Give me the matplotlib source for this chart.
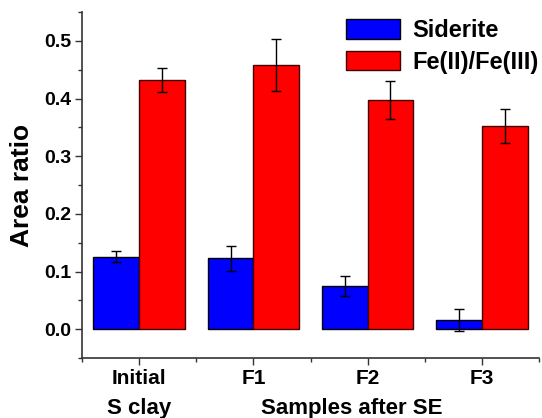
import numpy as np
import matplotlib.pyplot as plt
from matplotlib.ticker import MultipleLocator

plt.rcParams['font.family'] = ['Liberation Sans', 'DejaVu Sans']
plt.rcParams['font.weight'] = 'bold'
plt.rcParams['axes.labelweight'] = 'bold'

# Data
samples = ['Initial', 'F1', 'F2', 'F3']
siderite = [0.126, 0.123, 0.075, 0.016]
siderite_err = [0.009, 0.022, 0.018, 0.019]
fe_ratio = [0.432, 0.458, 0.398, 0.352]
fe_ratio_err = [0.021, 0.045, 0.033, 0.029]

x = np.arange(len(samples))
w = 0.4

fig = plt.figure(figsize=(5.42, 4.18), dpi=100)
ax = fig.add_axes([0.1513, 0.1435, 0.8432, 0.8278])

err_kw = dict(ecolor='black', elinewidth=1, capsize=3.5, capthick=1)
ax.bar(x - w / 2, siderite, w, yerr=siderite_err, color='#0000ff',
       edgecolor='black', linewidth=1, error_kw=err_kw, label='Siderite')
ax.bar(x + w / 2, fe_ratio, w, yerr=fe_ratio_err, color='#ff0000',
       edgecolor='#400000', linewidth=1, error_kw=err_kw, label='Fe(II)/Fe(III)')

ax.set_xlim(-0.5, 3.5)
ax.set_ylim(-0.05, 0.55)
ax.set_xticks(x)
ax.set_xticklabels(samples, fontsize=15, fontweight='bold')
ax.xaxis.set_minor_locator(MultipleLocator(1, offset=0.5))
ax.set_yticks([0.0, 0.1, 0.2, 0.3, 0.4, 0.5])
ax.set_yticklabels(['0.0', '0.1', '0.2', '0.3', '0.4', '0.5'], fontsize=14, fontweight='bold')
ax.yaxis.set_minor_locator(MultipleLocator(0.05))
ax.tick_params(which='major', length=5, width=1, color='#333333', pad=3)
ax.tick_params(which='minor', length=3, width=1, color='#333333')

for side in ['top', 'right']:
    ax.spines[side].set_visible(False)
for side in ['left', 'bottom']:
    ax.spines[side].set_color('#333333')
    ax.spines[side].set_linewidth(1.2)

ax.set_ylabel('Area ratio', fontsize=19, fontweight='bold', labelpad=7)

# group labels under the tick labels
ax.text(0, -0.137, 'S clay', fontsize=16, fontweight='bold', ha='center', va='center',
        clip_on=False)
ax.text(1.86, -0.137, 'Samples after SE', fontsize=16, fontweight='bold', ha='center',
        va='center', clip_on=False)

ax.legend(loc='upper right', bbox_to_anchor=(1.045, 1.04), frameon=False,
          handlelength=2.3, handleheight=0.9, handletextpad=0.5,
          labelspacing=0.35, prop={'weight': 'bold', 'size': 17})

fig.savefig('out.png', dpi=100)
